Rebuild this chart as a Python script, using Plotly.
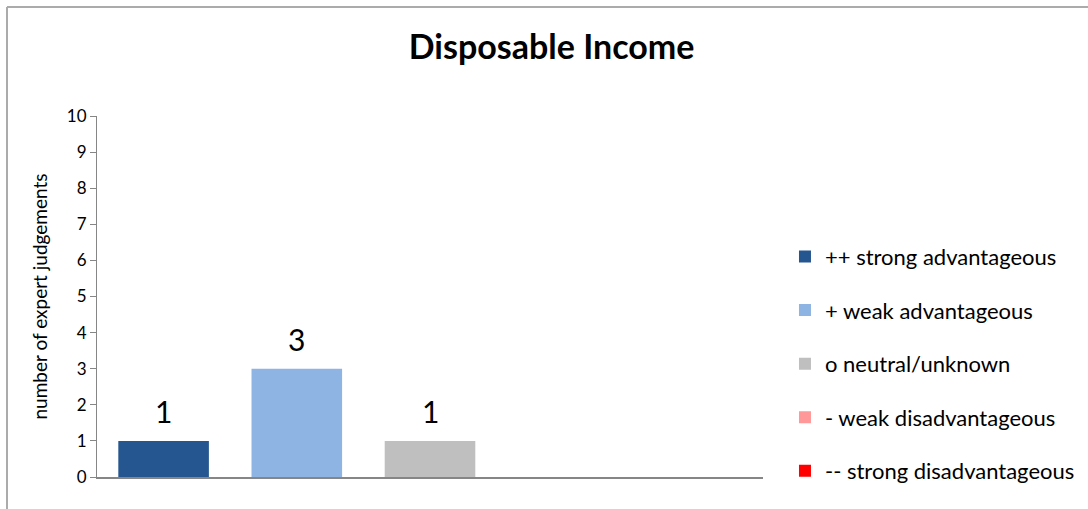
import plotly.graph_objects as go

categories = ["++ strong advantageous", "+ weak advantageous", "o neutral/unknown",
              "- weak disadvantageous", "-- strong disadvantageous"]
values = [1, 3, 1, 0, 0]
colors = ["#26568F", "#8EB4E3", "#BFBFBF", "#FF9999", "#FF0000"]
title = "Disposable Income"
y_title = "number of expert judgements"

FONT = "Lato, 'Open Sans', sans-serif"

fig = go.Figure()
for i, (c, v, col) in enumerate(zip(categories, values, colors)):
    fig.add_trace(go.Bar(
        x=[c], y=[v], name=c, marker=dict(color=col, line=dict(width=0)),
        width=0.68, legendgroup=f"g{i}",
    ))
    if v:
        fig.add_annotation(x=c, y=v, text=str(v), showarrow=False,
                           yanchor="bottom", yshift=10,
                           font=dict(size=30, color="black", family=FONT))

fig.update_layout(
    width=1088, height=509,
    margin=dict(l=97, r=325, t=116, b=32, autoexpand=False),
    paper_bgcolor="white", plot_bgcolor="white",
    barmode="overlay",
    font=dict(family=FONT, color="black"),
    title=dict(text="<b>" + title + "</b>", x=0.507, xanchor="center",
               y=0.907, yanchor="middle", font=dict(size=34, color="black", family=FONT)),
    showlegend=True,
    legend=dict(x=1.033, xanchor="left", y=0.314, yanchor="middle",
                font=dict(size=22, color="black", family=FONT),
                traceorder="grouped", tracegroupgap=22, bgcolor="rgba(0,0,0,0)"),
    xaxis=dict(showticklabels=False, showline=True, linecolor="#868686", linewidth=2,
               ticks="", showgrid=False, zeroline=False, fixedrange=True),
    yaxis=dict(range=[0, 10], dtick=1, tick0=0, showline=True, linecolor="#868686",
               linewidth=1, ticks="outside", ticklen=6, tickcolor="#868686",
               showgrid=False, zeroline=False,
               tickfont=dict(size=17, color="black", family=FONT),
               title=dict(text=y_title, font=dict(size=19, color="black", family=FONT),
                          standoff=14)),
)

# outer chart frame (partially visible)
fig.add_shape(type="line", xref="paper", yref="paper",
              x0=(7 - 97) / 666, x1=1.6, y0=(477 - 7) / 361, y1=(477 - 7) / 361,
              line=dict(color="#ABABAB", width=2))
fig.add_shape(type="line", xref="paper", yref="paper",
              x0=(7 - 97) / 666, x1=(7 - 97) / 666, y0=(477 - 7) / 361, y1=-0.3,
              line=dict(color="#ABABAB", width=2))

fig.write_html("out.html")
